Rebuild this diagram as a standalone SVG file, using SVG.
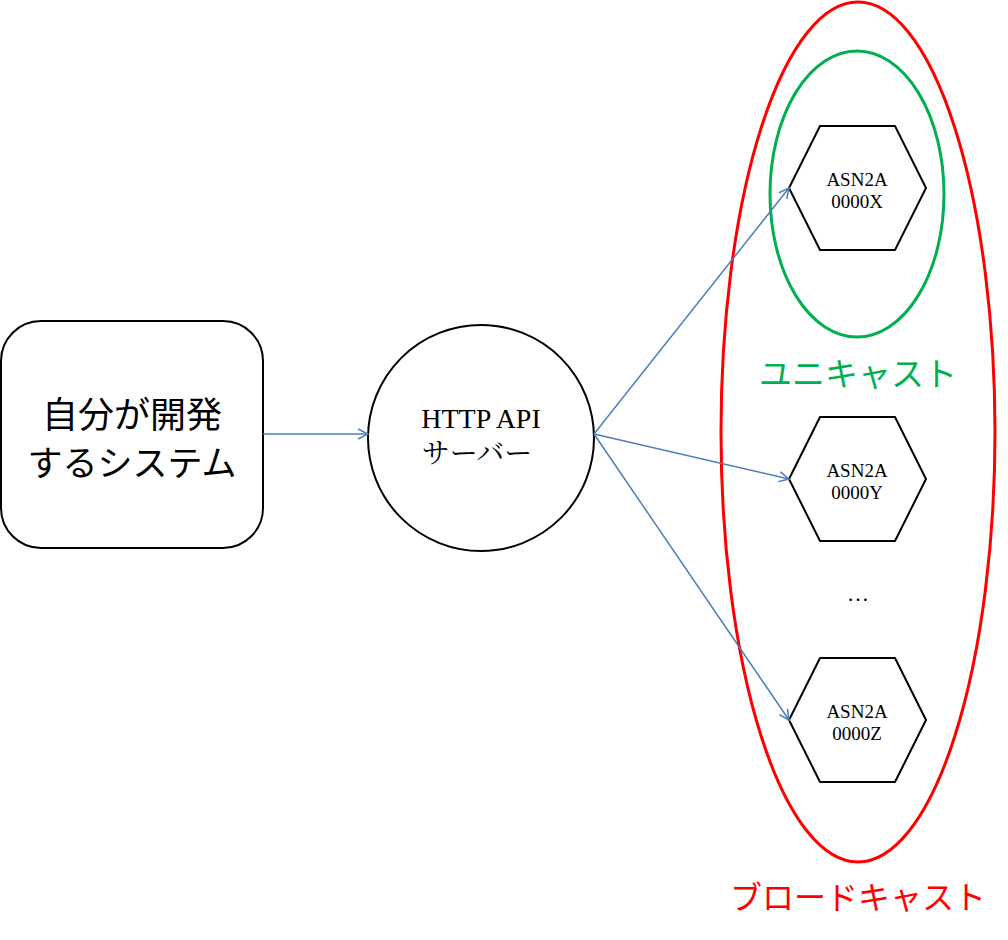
<svg xmlns="http://www.w3.org/2000/svg" width="1008" height="940" viewBox="0 0 1008 940">
<style>
.shape{fill:#fff;stroke:#000;stroke-width:2}
.serif{font-family:"Liberation Serif","Noto Serif CJK JP","Noto Sans CJK JP",serif;text-anchor:middle;fill:#000}
.sans{font-family:"Noto Sans CJK JP","Liberation Sans",sans-serif;text-anchor:middle}
.hex{font-size:19px}
.conn{stroke:#4a7ebb;stroke-width:1.5;fill:none;marker-end:url(#arr)}
</style>
<defs>
<marker id="arr" viewBox="0 0 12 12" refX="11" refY="6" markerWidth="12" markerHeight="12" markerUnits="userSpaceOnUse" orient="auto">
<path d="M1,1 L11,6 L1,11" fill="none" stroke="#4a7ebb" stroke-width="1.5"/>
</marker>
</defs>
<rect width="1008" height="940" fill="#fff"/>
<g id="broadcast">
<ellipse cx="858" cy="432" rx="137" ry="430" fill="none" stroke="#ff0000" stroke-width="3"/>
<text x="858" y="909" class="sans" font-size="32" fill="#ff0000">ブロードキャスト</text>
</g>
<g id="unicast">
<ellipse cx="857" cy="194" rx="87" ry="143" fill="none" stroke="#00b050" stroke-width="3"/>
<text x="858" y="386" class="sans" font-size="33" fill="#00b050">ユニキャスト</text>
</g>
<g id="system">
<rect x="1" y="321" width="262" height="227" rx="40" ry="40" class="shape"/>
<text x="132" y="428" class="sans" font-size="36" fill="#000">自分が開発</text>
<text x="132" y="476" class="sans" font-size="35" fill="#000">するシステム</text>
</g>
<g id="server">
<circle cx="481" cy="438" r="113" class="shape"/>
<text x="481" y="428" class="serif" font-size="28">HTTP API</text>
<text x="477" y="463" class="serif" font-size="28">サーバー</text>
</g>
<g id="hexX">
<polygon points="820,126 895,126 926,188 895,250 820,250 789,188" class="shape"/>
<text x="857" y="186" class="serif hex">ASN2A</text>
<text x="857" y="208" class="serif hex">0000X</text>
</g>
<g id="hexY">
<polygon points="820,417 895,417 926,479 895,541 820,541 789,479" class="shape"/>
<text x="857" y="477" class="serif hex">ASN2A</text>
<text x="857" y="499" class="serif hex">0000Y</text>
</g>
<g id="hexZ">
<polygon points="820,658 895,658 926,720 895,782 820,782 789,720" class="shape"/>
<text x="857" y="718" class="serif hex">ASN2A</text>
<text x="857" y="740" class="serif hex">0000Z</text>
</g>
<g id="ellipsis">
<text x="858" y="601" class="serif" font-size="22">…</text>
</g>
<g id="connectors">
<path d="M263,434 L368,434" class="conn"/>
<path d="M594,434 L789,188" class="conn"/>
<path d="M594,434 L789,479" class="conn"/>
<path d="M594,434 L789,720" class="conn"/>
</g>
</svg>
